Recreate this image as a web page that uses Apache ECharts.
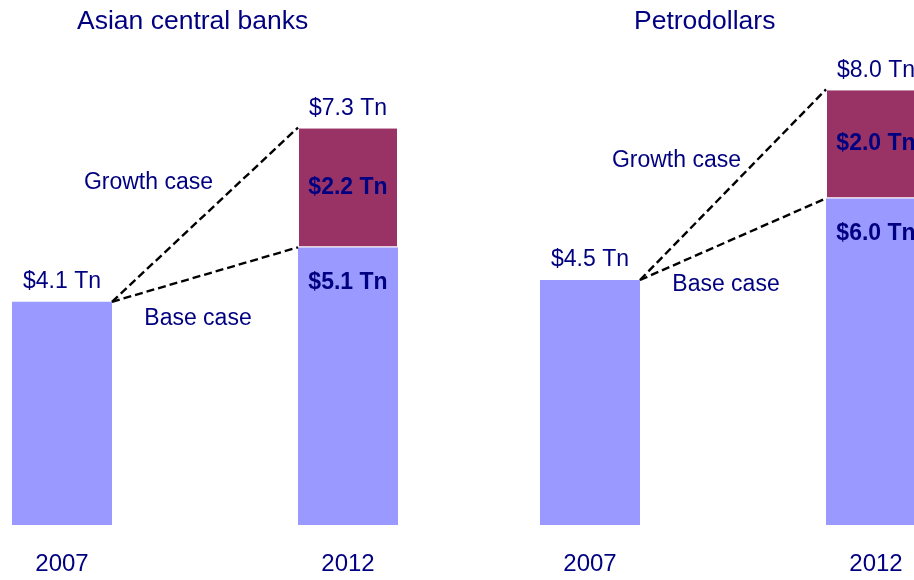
<!DOCTYPE html>
<html>
<head>
<meta charset="utf-8">
<script src="https://cdn.jsdelivr.net/npm/echarts@6/dist/echarts.min.js"></script>
<style>
  html, body { margin: 0; padding: 0; background: #fff; }
  #chart { width: 914px; height: 580px; }
</style>
</head>
<body>
<div id="chart"></div>
<script>
// Reserve holdings, trillions of US dollars
const years = ['2007', '2012'];
const asiaBase = [4.1, 5.1];
const asiaGrowth = ['-', 2.2];
const petroBase = [4.5, 6.0];
const petroGrowth = ['-', 2.0];
const panelTitles = ['Asian central banks', 'Petrodollars'];

const FONT = '"Liberation Sans", Arial, sans-serif';
const NAVY = '#000080';
const BLUE = '#9999FF';
const PLUM = '#993366';
const BAR_W = 100;
const LABEL_SIZE = 23;

const fmt = v => '$' + Number(v).toFixed(1) + ' Tn';

function baseData(values) {
  return values.map((v, i) => ({
    value: v,
    label: i === 0
      ? { show: true, position: 'top', distance: 9, formatter: fmt(v), fontWeight: 'normal' }
      : { show: true, position: 'insideTop', distance: 24, formatter: fmt(v), fontWeight: 'bold' }
  }));
}

function growthData(values) {
  return values.map(v => v === '-' ? '-' : {
    value: v,
    label: { show: true, position: 'inside', formatter: fmt(v), fontWeight: 'bold' }
  });
}

// Dashed links from the 2007 bar to the base and growth tops of 2012,
// plus the scenario captions and the 2012 total label.
function renderLinks(params, api) {
  const start = api.value(1), total = api.value(2), base = api.value(3);
  const from = api.coord([0, start]);
  const toTotal = api.coord([1, total]);
  const toBase = api.coord([1, base]);
  const x0 = from[0] + BAR_W / 2;
  const x1 = toTotal[0] - BAR_W / 2;
  const dash = { stroke: '#000', lineWidth: 2.4, lineDash: [8, 4] };
  const txt = (text, x, y, align, va) => ({
    type: 'text',
    style: { text, x, y, align, verticalAlign: va, fill: NAVY, font: LABEL_SIZE + 'px ' + FONT }
  });
  // caption for the base scenario sits a fixed distance below its link
  const baseCx = x0 + 86;
  const baseLineY = from[1] + (toBase[1] - from[1]) * (baseCx - x0) / (x1 - x0);
  return {
    type: 'group',
    children: [
      { type: 'line', shape: { x1: x0, y1: from[1], x2: x1, y2: toTotal[1] }, style: dash },
      { type: 'line', shape: { x1: x0, y1: from[1], x2: x1, y2: toBase[1] }, style: dash },
      txt(fmt(total), toTotal[0], toTotal[1] - 7, 'center', 'bottom'),
      txt('Growth case', x0 + 101, from[1] - 119, 'right', 'middle'),
      txt('Base case', baseCx, baseLineY + 42, 'center', 'middle')
    ]
  };
}

function panelSeries(idx, base, growth) {
  const total = base[1] + growth[1];
  const labelStyle = { color: NAVY, fontSize: LABEL_SIZE, fontFamily: FONT };
  return [
    {
      type: 'bar', xAxisIndex: idx, yAxisIndex: idx, stack: 's' + idx,
      barWidth: BAR_W, itemStyle: { color: BLUE },
      label: labelStyle, data: baseData(base), silent: true
    },
    {
      type: 'bar', xAxisIndex: idx, yAxisIndex: idx, stack: 's' + idx,
      barWidth: BAR_W, itemStyle: { color: PLUM, borderColor: '#fff', borderWidth: 1 },
      label: labelStyle, data: growthData(growth), silent: true
    },
    {
      type: 'custom', xAxisIndex: idx, yAxisIndex: idx,
      renderItem: renderLinks, silent: true, z: 5,
      data: [[0, base[0], total, base[1]]]
    }
  ];
}

const axisX = idx => ({
  type: 'category', gridIndex: idx, data: years, boundaryGap: false,
  axisLine: { show: false }, axisTick: { show: false }, splitLine: { show: false },
  axisLabel: { color: NAVY, fontSize: 24, fontFamily: FONT, margin: 27 }
});
const axisY = idx => ({ type: 'value', gridIndex: idx, min: 0, max: 9, show: false });

const titleStyle = { color: NAVY, fontSize: 26.5, fontWeight: 'normal', fontFamily: FONT };

const chart = echarts.init(document.getElementById('chart'), null, { renderer: 'canvas' });
chart.setOption({
  animation: false,
  backgroundColor: '#fff',
  title: [
    { text: panelTitles[0], left: 77, top: 8, padding: 0, textStyle: titleStyle },
    { text: panelTitles[1], left: 634, top: 8, padding: 0, textStyle: titleStyle }
  ],
  grid: [
    { left: 62, width: 286, top: 35, bottom: 55 },
    { left: 590, width: 286, top: 35, bottom: 55 }
  ],
  xAxis: [axisX(0), axisX(1)],
  yAxis: [axisY(0), axisY(1)],
  series: [
    ...panelSeries(0, asiaBase, asiaGrowth),
    ...panelSeries(1, petroBase, petroGrowth)
  ]
});
</script>
</body>
</html>
